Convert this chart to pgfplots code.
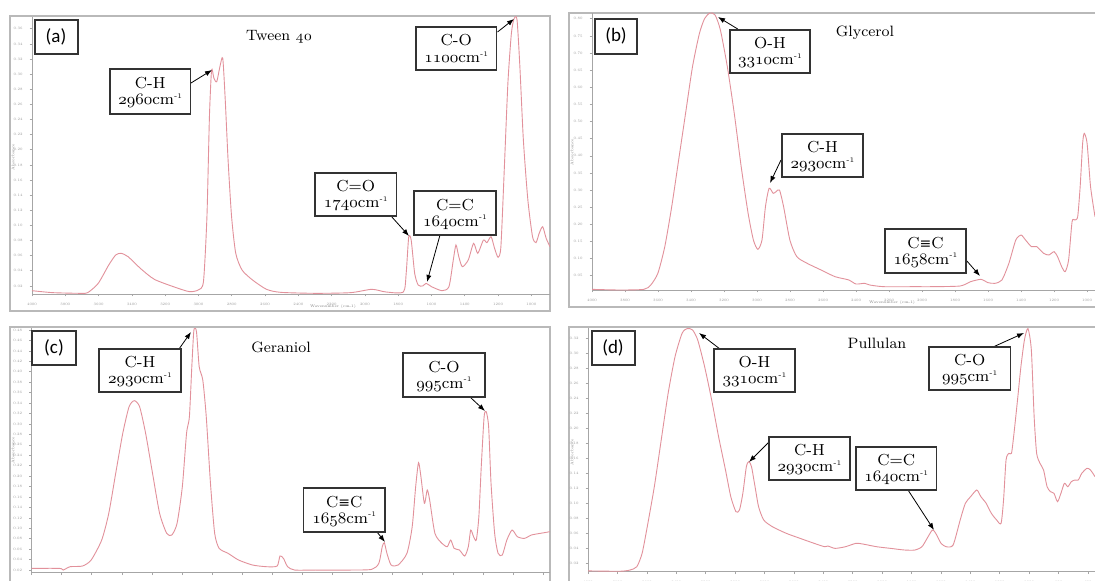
\documentclass[border=0pt]{standalone}
\usepackage{fontspec}
\usepackage{pgfplots}
\pgfplotsset{compat=1.18}
\usetikzlibrary{arrows.meta}
\newfontfamily\carlito{Carlito}
\newfontfamily\djs{DejaVu Serif}
\newcommand\osn[1]{{\usefont{OML}{cmm}{m}{it}#1}}
\newcommand\inv{\raisebox{0.9ex}{\fontsize{3.5}{4}\selectfont -1}}
\newcommand\ceqc{C{\djs\fontsize{7}{8}\selectfont ≡}C}
\definecolor{spec}{RGB}{226,145,155}
\pgfplotsset{ftir/.style={scale only axis, anchor=south west, x dir=reverse, xmax=4000,
  axis x line*=bottom, axis y line*=left,
  axis line style={gray!70, line width=0.4pt},
  tick style={gray!70, line width=0.3pt}, major tick length=1.2pt, tick align=outside,
  xtick={600,800,...,4000},
  tick label style={font=\fontsize{1.8}{2}\selectfont, text=gray!80, /pgf/number format/assume math mode=true},
  xticklabel style={/pgf/number format/1000 sep={}},
  yticklabel style={/pgf/number format/.cd, fixed, fixed zerofill, precision=2},
  specline/.style={spec, line width=0.45pt, smooth, tension=0.4, mark=none}}}
\tikzset{annbox/.style={draw=black!80, line width=0.7pt, fill=white},
  anntxt/.style={font=\fontsize{8}{9}\selectfont, inner sep=0pt},
  annarr/.style={-{Latex[length=3.5pt,width=2.6pt]}, line width=0.4pt, black}}
\newcommand\ann[6]{\draw[annbox] (#1,#2) rectangle (#3,#4);
  \node[anntxt] at ({(#1+#3)/2},{#2+(#4-#2)*0.31}) {#5};
  \node[anntxt] at ({(#1+#3)/2},{#2+(#4-#2)*0.71}) {#6};}
\begin{document}
\begin{tikzpicture}
\path[use as bounding box] (0,0) rectangle (547.5pt,290pt);
\fill[white] (0,0) rectangle (547.5pt,290pt);
\begin{scope}[x=0.5pt,y=-0.5pt,shift={(0pt,290pt)}]
\draw[gray!55, line width=0.6pt] (10,16) rectangle (550,311);
\draw[gray!55, line width=0.6pt] (569,13) rectangle (1100,307);
\draw[gray!55, line width=0.6pt] (10,327) rectangle (550,590);
\draw[gray!55, line width=0.6pt] (569,327) rectangle (1100,590);
\end{scope}

% (a) Tween 40
\begin{axis}[ftir, at={(16pt,143pt)}, width=259pt, height=138.5pt,
  xmin=888, ymin=0.0093, ymax=0.3755, ytick={0.02,0.04,...,0.37}]
\addplot[specline] coordinates {(4000,0.0137)(3876,0.0111)(3708,0.0102)(3665,0.0111)(3602,0.0234)(3539,0.0476)(3497,0.0609)(3465,0.0631)(3423,0.0587)(3349,0.0432)(3265,0.0287)(3139,0.0181)(3054,0.0124)(3002,0.0146)(2970,0.0256)(2949,0.1116)(2934,0.2438)(2921,0.3055)(2907,0.2944)(2890,0.2900)(2871,0.3099)(2854,0.3209)(2839,0.2658)(2822,0.1865)(2801,0.1116)(2776,0.0631)(2738,0.0410)(2675,0.0278)(2591,0.0155)(2506,0.0115)(2296,0.0102)(2085,0.0111)(1958,0.0155)(1874,0.0120)(1769,0.0120)(1752,0.0366)(1737,0.0842)(1722,0.0807)(1701,0.0366)(1680,0.0212)(1653,0.0199)(1632,0.0234)(1600,0.0190)(1537,0.0137)(1495,0.0190)(1469,0.0543)(1453,0.0741)(1436,0.0587)(1415,0.0454)(1379,0.0543)(1347,0.0763)(1322,0.0631)(1288,0.0807)(1267,0.0772)(1242,0.0851)(1221,0.0697)(1200,0.0578)(1183,0.0719)(1162,0.1777)(1141,0.2878)(1120,0.3539)(1103,0.3738)(1086,0.3716)(1069,0.3099)(1048,0.2129)(1021,0.1336)(993,0.0851)(972,0.0772)(953,0.0895)(932,0.0983)(911,0.0829)(888,0.0719)};
\end{axis}

% (b) Glycerol
\begin{axis}[ftir, at={(296pt,145pt)}, width=251.5pt, height=138.65pt,
  xmin=952, ymin=0.0083, ymax=0.8178, ytick={0.05,0.10,...,0.81}]
\addplot[specline] coordinates {(4000,0.0102)(3833,0.0083)(3686,0.0102)(3644,0.0229)(3601,0.0570)(3559,0.1348)(3517,0.2515)(3475,0.3878)(3433,0.5240)(3391,0.6602)(3349,0.7575)(3317,0.8013)(3285,0.8170)(3254,0.8110)(3222,0.7672)(3180,0.6602)(3138,0.5240)(3096,0.3683)(3054,0.2321)(3022,0.1542)(2995,0.1270)(2970,0.1542)(2949,0.2515)(2927,0.3051)(2902,0.2905)(2885,0.2953)(2864,0.3002)(2839,0.2515)(2801,0.1542)(2759,0.1056)(2696,0.0861)(2612,0.0667)(2527,0.0472)(2443,0.0375)(2401,0.0258)(2348,0.0278)(2317,0.0229)(2232,0.0180)(2043,0.0180)(1937,0.0180)(1769,0.0200)(1706,0.0326)(1643,0.0394)(1600,0.0297)(1558,0.0278)(1516,0.0375)(1474,0.0861)(1432,0.1542)(1400,0.1688)(1373,0.1542)(1337,0.1348)(1305,0.1348)(1263,0.1153)(1232,0.1105)(1200,0.1202)(1179,0.1056)(1154,0.0764)(1133,0.0618)(1112,0.0959)(1091,0.2077)(1074,0.2126)(1057,0.2223)(1042,0.3099)(1027,0.4364)(1017,0.4656)(1000,0.4364)(979,0.3099)(952,0.2223)};
\end{axis}

% (c) Geraniol
\begin{axis}[ftir, at={(15.8pt,3.65pt)}, width=259.2pt, height=122.2pt,
  xmin=554, ymin=0.0149, ymax=0.4833, ytick={0.02,0.04,...,0.481}]
\addplot[specline] coordinates {(4000,0.0232)(3814,0.0232)(3790,0.0200)(3744,0.0264)(3662,0.0277)(3604,0.0392)(3534,0.0775)(3487,0.1286)(3441,0.2053)(3394,0.2820)(3352,0.3331)(3317,0.3446)(3282,0.3331)(3242,0.2820)(3196,0.2053)(3149,0.1286)(3102,0.0903)(3068,0.0871)(3033,0.1095)(2998,0.1798)(2970,0.2820)(2951,0.3140)(2935,0.4098)(2921,0.4801)(2904,0.4769)(2886,0.4098)(2862,0.3842)(2839,0.3140)(2811,0.1862)(2783,0.0903)(2753,0.0615)(2694,0.0520)(2624,0.0392)(2531,0.0296)(2438,0.0264)(2368,0.0277)(2349,0.0469)(2326,0.0424)(2298,0.0264)(2251,0.0200)(2112,0.0200)(1878,0.0200)(1739,0.0213)(1692,0.0328)(1669,0.0648)(1655,0.0724)(1638,0.0520)(1610,0.0296)(1564,0.0296)(1505,0.0520)(1470,0.1031)(1447,0.1798)(1428,0.2258)(1412,0.1989)(1389,0.1478)(1370,0.1734)(1354,0.1542)(1319,0.0903)(1272,0.0711)(1237,0.0648)(1214,0.0775)(1191,0.0615)(1156,0.0584)(1121,0.0469)(1097,0.0648)(1081,0.0967)(1062,0.0839)(1044,0.0775)(1027,0.1222)(1011,0.2181)(992,0.3140)(978,0.3235)(962,0.2948)(946,0.1862)(922,0.0903)(899,0.0520)(871,0.0488)(841,0.0775)(806,0.0967)(771,0.0839)(724,0.0807)(678,0.0871)(619,0.0903)(554,0.0935)};
\end{axis}

% (d) Pullulan
\begin{axis}[ftir, at={(294pt,4.15pt)}, width=253.5pt, height=121.7pt,
  xmin=552, ymin=0.0089, ymax=0.3333, ytick={0.02,0.04,...,0.33}]
\addplot[specline] coordinates {(4000,0.0100)(3786,0.0095)(3715,0.0111)(3668,0.0156)(3632,0.0334)(3597,0.0689)(3549,0.1222)(3502,0.1845)(3455,0.2467)(3408,0.2956)(3360,0.3267)(3325,0.3330)(3289,0.3311)(3254,0.3178)(3207,0.2822)(3159,0.2378)(3112,0.1889)(3065,0.1445)(3029,0.1089)(2994,0.0889)(2970,0.0911)(2947,0.1133)(2923,0.1489)(2906,0.1556)(2888,0.1489)(2864,0.1222)(2840,0.0956)(2805,0.0778)(2746,0.0689)(2651,0.0600)(2557,0.0533)(2462,0.0467)(2391,0.0422)(2368,0.0431)(2320,0.0400)(2249,0.0422)(2178,0.0467)(2131,0.0458)(2037,0.0422)(1942,0.0400)(1847,0.0378)(1777,0.0378)(1729,0.0422)(1694,0.0533)(1658,0.0645)(1635,0.0600)(1599,0.0467)(1564,0.0422)(1517,0.0445)(1469,0.0778)(1434,0.1000)(1398,0.1089)(1356,0.1178)(1328,0.1089)(1292,0.1000)(1257,0.0867)(1221,0.0778)(1191,0.0733)(1174,0.1045)(1157,0.1578)(1138,0.1667)(1120,0.1667)(1103,0.1933)(1079,0.2378)(1056,0.2822)(1032,0.3178)(1008,0.3330)(985,0.3044)(966,0.2156)(949,0.1667)(926,0.1533)(902,0.1445)(878,0.1222)(855,0.1156)(831,0.1133)(807,0.1022)(784,0.1133)(760,0.1267)(737,0.1222)(713,0.1289)(689,0.1311)(666,0.1311)(642,0.1400)(607,0.1467)(583,0.1445)(552,0.1356)};
\end{axis}

\begin{scope}[x=0.5pt,y=-0.5pt,shift={(0pt,290pt)}]
% axis labels
\node[font=\fontsize{1.9}{2.3}\selectfont, text=gray] at (333,306.5) {Wavenumber (cm-1)};
\node[font=\fontsize{1.9}{2.3}\selectfont, text=gray] at (892,303) {Wavenumber (cm-1)};
\node[font=\fontsize{1.9}{2.3}\selectfont, text=gray, rotate=90] at (13,157) {Absorbance};
\node[font=\fontsize{1.9}{2.3}\selectfont, text=gray, rotate=90] at (572,152) {Absorbance};
\node[font=\fontsize{1.9}{2.3}\selectfont, text=gray, rotate=90] at (13,450) {Absorbance};
\node[font=\fontsize{1.9}{2.3}\selectfont, text=gray, rotate=90] at (572,452) {Absorbance};
% panel letters
\draw[annbox] (35,20) rectangle (78,54); \node[font=\carlito\fontsize{9.5}{10}\selectfont] at (56,37) {(a)};
\draw[annbox] (595,19) rectangle (637,54); \node[font=\carlito\fontsize{9.5}{10}\selectfont] at (616,36) {(b)};
\draw[annbox] (32,331) rectangle (76,365); \node[font=\carlito\fontsize{9.5}{10}\selectfont] at (54,348) {(c)};
\draw[annbox] (592,331) rectangle (635,365); \node[font=\carlito\fontsize{9.5}{10}\selectfont] at (613,348) {(d)};
% titles
\node[font=\fontsize{7.5}{8}\selectfont] at (279,37) {Tween \osn{40}};
\node[font=\fontsize{7.5}{8}\selectfont] at (865,33) {Glycerol};
\node[font=\fontsize{7.5}{8}\selectfont] at (281,347) {Geraniol};
\node[font=\fontsize{7.5}{8}\selectfont] at (877,343) {Pullulan};
% (a) annotations
\draw[annarr] (191,83) -- (212,70);
\ann{110}{69}{190.5}{114}{C-H}{\osn{2960}cm\inv}
\draw[annarr] (497.5,32) -- (514,19);
\ann{416}{27}{496.5}{70}{C-O}{\osn{1100}cm\inv}
\draw[annarr] (391,216) -- (409,236);
\ann{315}{173}{396.5}{216}{C=O}{\osn{1740}cm\inv}
\draw[annarr] (440,235) -- (427,282);
\ann{414}{191}{496}{235}{C=C}{\osn{1640}cm\inv}
% (b) annotations
\draw[annarr] (737.7,29) -- (718,17);
\ann{730}{30}{810}{73}{O-H}{\osn{3310}cm\inv}
\draw[annarr] (781,160) -- (770,183);
\ann{782}{134}{863}{177}{C-H}{\osn{2930}cm\inv}
\draw[annarr] (966,260) -- (980,276);
\ann{885}{229}{966}{273}{\ceqc}{\osn{1658}cm\inv}
% (c) annotations
\draw[annarr] (179,349) -- (191,332);
\ann{99}{349}{181}{392}{C-H}{\osn{2930}cm\inv}
\draw[annarr] (470,397) -- (485,411);
\ann{403}{353}{485}{397}{C-O}{\osn{995}cm\inv}
\draw[annarr] (377,532) -- (385,542);
\ann{303.5}{488}{385}{532}{\ceqc}{\osn{1658}cm\inv}
% (d) annotations
\draw[annarr] (720,349) -- (699,333);
\ann{714}{349}{795}{392}{O-H}{\osn{3310}cm\inv}
\draw[annarr] (993,347) -- (1024,333);
\ann{929}{347}{1010.5}{390}{C-O}{\osn{995}cm\inv}
\draw[annarr] (769,442) -- (749,462);
\ann{769}{437}{850}{480}{C-H}{\osn{2930}cm\inv}
\draw[annarr] (908,490) -- (934,530);
\ann{856}{447}{936.5}{490}{C=C}{\osn{1640}cm\inv}
\end{scope}
\end{tikzpicture}
\end{document}
